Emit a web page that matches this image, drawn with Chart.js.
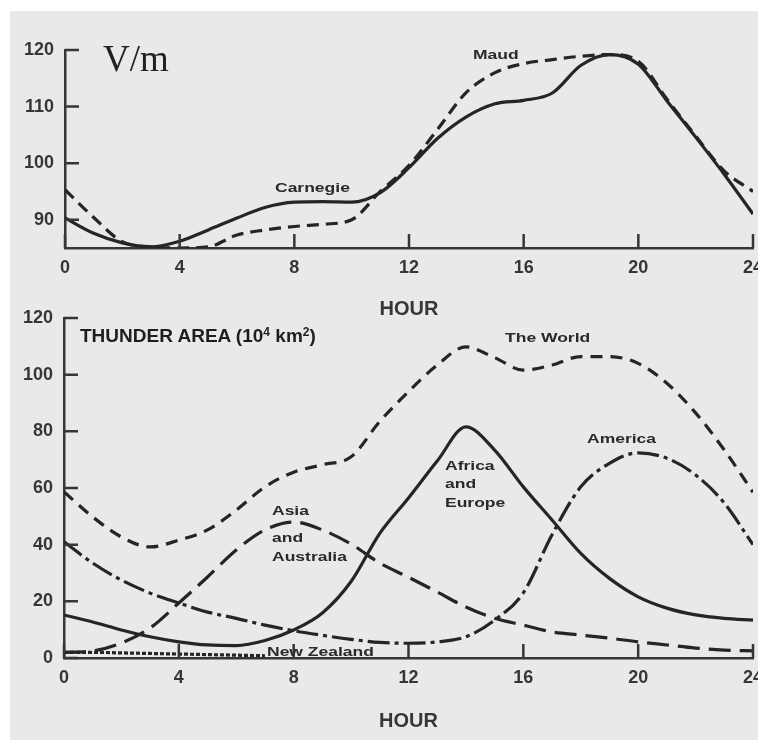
<!DOCTYPE html>
<html><head><meta charset="utf-8">
<script src="https://cdn.jsdelivr.net/npm/chart.js@4"></script>
<style>
html,body{margin:0;padding:0;background:#fff;width:758px;height:740px;overflow:hidden;position:relative;font-family:"Liberation Sans",Arial,sans-serif;}
#photo{position:absolute;left:10px;top:11px;width:748px;height:729px;background:#e7eae7;}
.box{position:absolute;left:0;}
#top{top:0;width:800px;height:330px;}
#bot{top:290px;width:800px;height:450px;}
.lbl{position:absolute;font-weight:bold;font-size:12.5px;color:#2a2a2a;transform-origin:0 50%;transform:translateY(-50%) scaleX(1.4);white-space:nowrap;line-height:1;}
#vm{position:absolute;left:103px;top:40px;font-family:"Liberation Serif","Times New Roman",serif;font-size:37px;color:#222;line-height:1;}
#ta{position:absolute;left:80px;top:326px;font-weight:bold;font-size:19px;color:#1e1e1e;white-space:nowrap;line-height:1;}
#ta sup{font-size:12px;vertical-align:6px;line-height:0;}
</style></head>
<body>
<div id="photo"></div>
<div class="box" id="top"><canvas id="c1" width="800" height="330"></canvas></div>
<div class="box" id="bot"><canvas id="c2" width="800" height="450"></canvas></div>
<div id="vm">V/m</div>
<div id="ta">THUNDER AREA (10<sup>4</sup> km<sup>2</sup>)</div>
<div class="lbl" style="left:275px;top:188px">Carnegie</div>
<div class="lbl" style="left:473px;top:55px">Maud</div>
<div class="lbl" style="left:505px;top:338px">The World</div>
<div class="lbl" style="left:587px;top:439px">America</div>
<div class="lbl" style="left:445px;top:466px">Africa</div>
<div class="lbl" style="left:445px;top:484px">and</div>
<div class="lbl" style="left:445px;top:503px">Europe</div>
<div class="lbl" style="left:272px;top:511px">Asia</div>
<div class="lbl" style="left:272px;top:538px">and</div>
<div class="lbl" style="left:272px;top:557px">Australia</div>
<div class="lbl" style="left:267px;top:652px">New Zealand</div>
<script>
// ---- data ----
const hours = [0,1,2,3,4,5,6,7,8,9,10,11,12,13,14,15,16,17,18,19,20,21,22,23,24];
const xTicks = [0,4,8,12,16,20,24];
const topYTicks = [90,100,110,120];
const botYTicks = [0,20,40,60,80,100,120];
const carnegie = [90.3,87.6,85.9,85.2,86.2,88.2,90.3,92.2,93.1,93.2,93.1,94.8,99.2,104.4,108.2,110.5,111.1,112.4,117.3,119.2,117.5,111.0,104.6,98.0,91.0];
const maud     = [95.3,90.4,86.1,85.2,85.0,85.2,87.3,88.2,88.8,89.2,90.0,95.0,99.6,106.0,112.5,116.0,117.6,118.3,118.9,119.2,118.0,111.3,104.8,98.6,95.0];
const world    = [58.6,49.8,42.7,39.2,41.6,45.2,52.2,60.4,65.6,68.2,71.0,83.5,94.0,103.4,109.8,106.0,101.6,103.4,106.4,106.4,104.0,97.0,86.5,73.4,58.5];
const africa   = [15.2,12.7,9.9,7.5,5.7,4.6,4.4,6.2,9.9,15.9,27.0,44.0,56.5,69.5,81.6,73.4,60.4,48.7,36.9,28.1,21.6,17.6,15.2,14.0,13.4];
const america  = [41.0,33.5,27.5,22.9,19.4,16.2,14.0,11.6,9.6,8.0,6.6,5.5,5.2,5.7,7.5,13.4,23.0,43.5,60.4,68.7,72.4,70.5,64.6,54.7,40.0];
const asia     = [2.0,2.5,5.3,10.6,19.4,28.6,38.1,45.2,48.0,45.2,40.2,33.5,28.5,23.3,18.0,14.0,11.6,9.2,8.1,7.0,5.7,4.6,3.5,2.8,2.5];
const newZealand = [2.0,2.0,1.8,1.6,1.4,1.2,1.0,0.8,null,null,null,null,null,null,null,null,null,null,null,null,null,null,null,null,null];

// ---- styling ----
const LINE = '#252525', AXIS = '#363636', TXT = '#363636';
const FAM = '"Liberation Sans", Arial, sans-serif';
const pts = arr => hours.map((h,i)=>({x:h, y:arr[i]}));
const ds = (label, arr, dash) => ({label, data: pts(arr), borderColor: LINE, borderWidth: 3.2, borderDash: dash || [], pointRadius: 0, cubicInterpolationMode: 'monotone', fill: false, spanGaps: false});

const innerTicks = {
  id: 'innerTicks',
  afterDraw(chart){
    const {ctx, chartArea: a, scales: {x, y}} = chart;
    ctx.save(); ctx.strokeStyle = AXIS; ctx.lineWidth = 2.5; ctx.beginPath();
    x.ticks.forEach(t => { const p = x.getPixelForValue(t.value); ctx.moveTo(p, a.bottom); ctx.lineTo(p, a.bottom - 14); });
    y.ticks.forEach(t => { const p = y.getPixelForValue(t.value); ctx.moveTo(a.left, p); ctx.lineTo(a.left + 14, p); });
    ctx.stroke(); ctx.restore();
  }
};

function makeOpts(yMin, yMax, yTicks, yWidth, padTop, titlePad){
  return {
    responsive: false, animation: false,
    layout: {padding: {top: padTop, right: 47, left: 0, bottom: 0}},
    plugins: {legend: {display: false}, tooltip: {enabled: false}},
    scales: {
      x: {type: 'linear', min: 0, max: 24,
          afterBuildTicks: s => { s.ticks = xTicks.map(v => ({value: v})); },
          afterFit: s => { s.height = 82; },
          grid: {display: false, drawTicks: false, tickLength: 0}, border: {display: true, color: AXIS, width: 2.5},
          ticks: {color: TXT, font: {family: FAM, size: 18, weight: 'bold'}, padding: 9, maxRotation: 0, autoSkip: false},
          title: {display: true, text: 'HOUR', color: TXT, font: {family: FAM, size: 20, weight: 'bold'}, padding: {top: 0, bottom: titlePad}}},
      y: {type: 'linear', min: yMin, max: yMax,
          afterBuildTicks: s => { s.ticks = yTicks.map(v => ({value: v})); },
          afterFit: s => { s.width = yWidth; },
          grid: {display: false, drawTicks: false, tickLength: 0}, border: {display: true, color: AXIS, width: 2.5},
          ticks: {color: TXT, font: {family: FAM, size: 18, weight: 'bold'}, padding: 11, autoSkip: false}}
    }
  };
}

new Chart(document.getElementById('c1'), {
  type: 'line',
  data: {datasets: [ds('Carnegie', carnegie), ds('Maud', maud, [12,7])]},
  options: makeOpts(85, 120, topYTicks, 65, 50, 9),
  plugins: [innerTicks]
});

new Chart(document.getElementById('c2'), {
  type: 'line',
  data: {datasets: [
    ds('The World', world, [12,8]),
    ds('Africa and Europe', africa),
    ds('America', america, [22,5,4,5]),
    ds('Asia and Australia', asia, [22,9]),
    ds('New Zealand', newZealand, [4,2])
  ]},
  options: makeOpts(0, 120, botYTicks, 64, 28, 7),
  plugins: [innerTicks]
});
</script>
</body></html>
